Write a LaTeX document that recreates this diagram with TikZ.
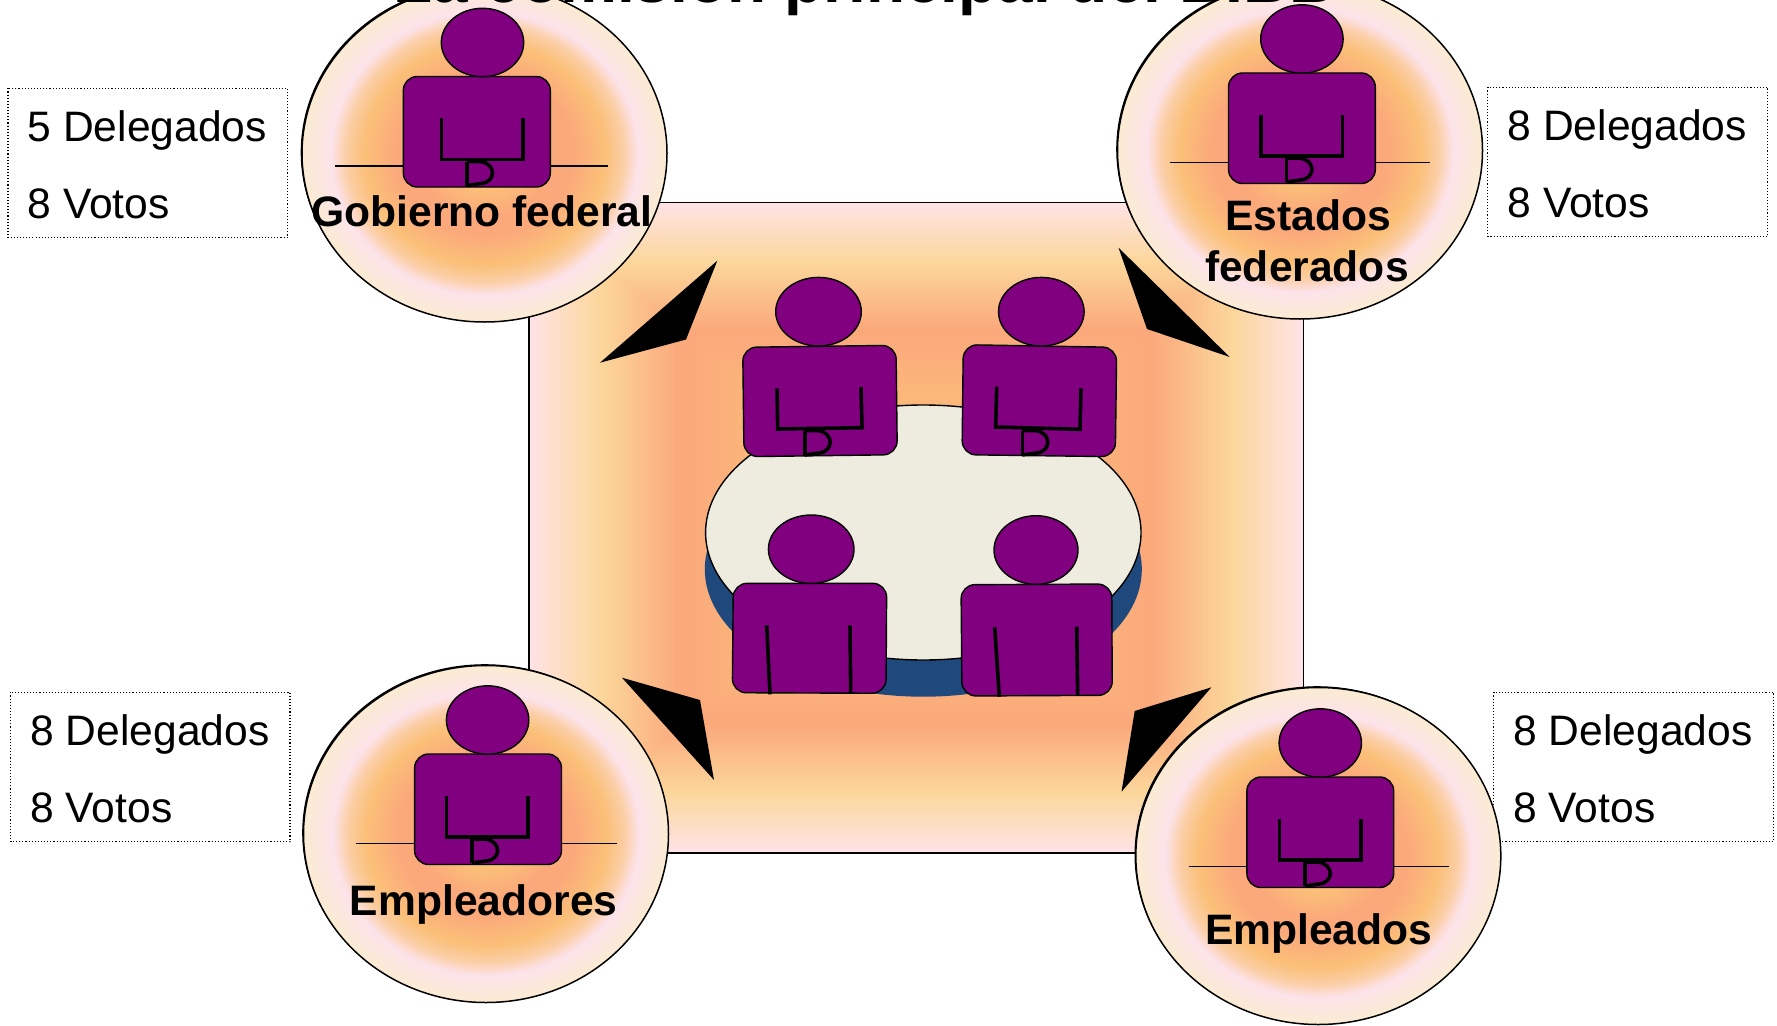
\documentclass[tikz,border=0pt]{standalone}
\usepackage{fontspec}
\setmainfont{Liberation Sans}
\usetikzlibrary{calc}
\definecolor{rpink}{HTML}{FFE3E6}
\definecolor{rtan}{HTML}{FBD79B}
\definecolor{rsalm}{HTML}{FBA87B}
\definecolor{rorange}{HTML}{FBC078}
\definecolor{rmid}{HTML}{FBB87A}
\definecolor{rcream}{HTML}{FBEBD2}
\definecolor{ringpink}{HTML}{FCE3EA}
\definecolor{persona}{HTML}{800080}
\definecolor{tabletop}{HTML}{EEEBDF}
\definecolor{tableblue}{HTML}{1F497D}
\pgfdeclareradialshading{discshade}{\pgfpointorigin}{%
 color(0bp)=(rorange!70!rtan); color(5bp)=(rorange); color(9.5bp)=(rsalm); color(12bp)=(rsalm);
 color(16.5bp)=(rorange); color(19bp)=(rorange!60!ringpink); color(21bp)=(ringpink); color(25bp)=(rcream); color(50bp)=(rcream)}
\tikzset{
 x=1pt,y=-1pt,
 bodyshape/.style={draw=black,line width=1.4pt,fill=persona,rounded corners=14pt},
 headshape/.style={draw=black,line width=1.4pt,fill=persona},
 armline/.style={draw=black,line width=3.6pt},
 deskline/.style={draw=black,line width=1.6pt},
 disc/.style={draw=black,line width=1.5pt,shading=discshade},
 wedge/.style={fill=black},
 infobox/.style={draw=black,line width=1.1pt,dotted,fill=white},
 infotext/.style={font=\fontsize{42.6}{42.6}\selectfont,anchor=base west,inner sep=0pt},
 grouplabel/.style={font=\fontsize{42.6}{42.6}\selectfont\bfseries,anchor=base,inner sep=0pt},
}
% D-shaped buckle: x, top y, bottom y
\newcommand{\dbuckle}[3]{%
 \draw[armline] (#1,#2) -- (#1,#3);
 \draw[armline] (#1,#2) -- ({#1+13},#2) .. controls ({#1+30},{#2+2}) and ({#1+29},{#3-3}) .. ({#1+14},{#3-2}) -- (#1,#3);
}
% round-cornered body from four corners
\newcommand{\rbody}[4]{%
 \draw[bodyshape] ($#1!.5!#2$) -- #2 -- #3 -- #4 -- #1 -- cycle;
}
% seated person in a disc: head x, head y, body left, body right, desk left, desk right
\newcommand{\discperson}[6]{%
 \draw[deskline] (#5,{#2+123.3}) -- (#6,{#2+123.3});
 \rbody{(#3,{#2+34})}{(#4,{#2+34})}{(#4,{#2+144.5})}{(#3,{#2+144.5})}
 \draw[headshape] (#1,#2) ellipse [x radius=41.2,y radius=34.2];
 \draw[armline,line join=miter] ({#1-41},{#2+75.5}) -- ({#1-41},{#2+117}) -- ({#1+40.5},{#2+117}) -- ({#1+40.5},{#2+75.5});
 \dbuckle{#1-15.5}{#2+119}{#2+143}
}
% info box: left, top, right, bottom, first line, name
\newcommand{\infobox}[6]{%
 \draw[infobox] (#1,#2) rectangle (#3,#4);
 \node[infotext] (#6a) at ({#1+19.5},{#2+53.2}) {#5 Delegados};
 \node[infotext] (#6b) at ({#1+19.5},{#2+130}) {8 Votos};
}
\newcommand{\discshape}[2]{%
 \fill[black] ({#1-1.3},{#2-1.3}) ellipse [x radius=182.5,y radius=168.5];
 \path[disc] (#1,#2) ellipse [x radius=182.5,y radius=168.5];
}
\begin{document}
\begin{tikzpicture}
\useasboundingbox (0,0) rectangle (1777,1025);
\clip (0,0) rectangle (1777,1025);
% info boxes (behind the discs)
\infobox{8}{88.3}{287.7}{237.5}{5}{tl}
\infobox{1487.9}{87.3}{1767.9}{236.7}{8}{tr}
\infobox{10.6}{692.3}{290}{841.7}{8}{bl}
\infobox{1493.6}{692.3}{1773.6}{841.7}{8}{br}
% centre panel
\foreach \ca/\cb/\ta/\tb in {rpink/rtan/0/.18,rtan/rsalm/.18/.39,rsalm/rmid/.39/.6,rmid/rsalm/.6/1}{
 \foreach \k in {0,...,24}{
  \pgfmathsetmacro\tt{\ta+(\tb-\ta)*\k/25}
  \pgfmathsetmacro\mm{100-\k*4}
  \pgfmathsetmacro\sx{387.5*(1-\tt)}
  \pgfmathsetmacro\sy{325.5*(1-\tt)}
  \fill[fill=\ca!\mm!\cb] ({916.5-\sx},{527.5-\sy}) rectangle ({916.5+\sx},{527.5+\sy});
 }
}
\draw[black,line width=1.3pt] (529,202.5) rectangle (1303.5,853);
% wedges
\fill[wedge] (717.3,260.7) -- (600,362.7) -- (686,339.5) -- cycle;
\fill[wedge] (1118.5,247.7) -- (1147,329) -- (1229.7,357) -- cycle;
\fill[wedge] (622,677.7) -- (700,700) -- (714,780) -- cycle;
\fill[wedge] (1211.4,687.3) -- (1134.7,711) -- (1121.5,791.7) -- cycle;
% table
\fill[tableblue] (923.3,569.2) ellipse [x radius=218.5,y radius=127.5];
\draw[black,line width=1.4pt,fill=tabletop] (923.3,532.5) ellipse [x radius=217.7,y radius=127.5];
% people round the table
\rbody{(742.7,347.3)}{(896,345.3)}{(897.3,454.7)}{(744,456.7)}
\draw[headshape] (818.5,311.7) ellipse [x radius=42.8,y radius=34.3];
\draw[armline] (777,388.3) -- (777.7,429) -- (862,427.7) -- (861,387);
\dbuckle{804.7}{430.5}{455}
\rbody{(963.3,344.7)}{(1116.7,347.3)}{(1115.3,456.7)}{(962,454.7)}
\draw[headshape] (1041.3,311.7) ellipse [x radius=42.8,y radius=34.3];
\draw[armline] (996.7,386.7) -- (995.7,427) -- (1080,429.3) -- (1081,388.3);
\dbuckle{1022.3}{430.5}{455}
\rbody{(733.3,583.3)}{(886.7,583.3)}{(886,693.3)}{(732.3,692.7)}
\draw[headshape] (811.2,549.2) ellipse [x radius=42.8,y radius=34.2];
\draw[armline] (766.7,625.3) -- (770,694.3);
\draw[armline] (850,625.3) -- (850.7,693.3);
\rbody{(961,584.7)}{(1111.7,584)}{(1112.3,695.3)}{(962,696)}
\draw[headshape] (1036,550) ellipse [x radius=42,y radius=34.3];
\draw[armline] (994.7,627.3) -- (999.3,696.7);
\draw[armline] (1076.7,626.7) -- (1077.7,695.7);
% discs with a person
\discshape{484.5}{153.5}
\discperson{482.5}{42.5}{403.3}{550.3}{335}{608.3}
\discshape{1300}{150.5}
\discperson{1301.9}{39}{1228.5}{1375.3}{1170.2}{1430}
\discshape{486}{834}
\discperson{487.6}{720}{414.6}{561.5}{355.8}{616.6}
\discshape{1318.3}{856}
\discperson{1320.3}{743}{1246.9}{1393.7}{1188.6}{1448.5}
% labels
\node[grouplabel] (gob) at (481.7,226) {Gobierno federal};
\node[grouplabel] (est) at (1308,230) {Estados};
\node[grouplabel] (fed) at (1306.9,281.7) {federados};
\node[grouplabel] (emp) at (483.7,915) {Empleadores};
\node[grouplabel] (empl) at (1318.7,944) {Empleados};
\node[font=\fontsize{64}{64}\selectfont\bfseries,anchor=base west,inner sep=0pt] (title) at (393,2.5) {La comisión principal del BIBB};
\end{tikzpicture}
\end{document}
